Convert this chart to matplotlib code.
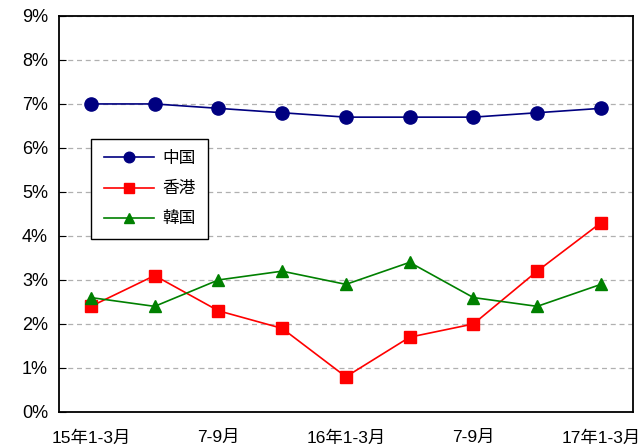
import matplotlib
matplotlib.use("Agg")
import matplotlib.pyplot as plt
from matplotlib.ticker import FuncFormatter

plt.rcParams['font.family'] = ['Liberation Sans', 'Noto Sans CJK JP', 'DejaVu Sans']

quarters = ["15年1-3月", "4-6月", "7-9月", "10-12月", "16年1-3月",
            "4-6月", "7-9月", "10-12月", "17年1-3月"]
china = [7.0, 7.0, 6.9, 6.8, 6.7, 6.7, 6.7, 6.8, 6.9]
hongkong = [2.4, 3.1, 2.3, 1.9, 0.8, 1.7, 2.0, 3.2, 4.3]
korea = [2.6, 2.4, 3.0, 3.2, 2.9, 3.4, 2.6, 2.4, 2.9]
series_names = ["中国", "香港", "韓国"]

fig = plt.figure(figsize=(6.44, 4.45), dpi=100)
ax = fig.add_axes([0.0916, 0.0742, 0.891, 0.89])

x = list(range(len(quarters)))
ax.plot(x, china, color="#000080", marker="o", markersize=9.5, lw=1.2,
        label=series_names[0], clip_on=False, zorder=3)
ax.plot(x, hongkong, color="#FF0000", marker="s", markersize=9, lw=1.2,
        label=series_names[1], clip_on=False, zorder=3)
ax.plot(x, korea, color="#008000", marker="^", markersize=9, lw=1.2,
        label=series_names[2], clip_on=False, zorder=3)

ax.set_xlim(-0.5, len(quarters) - 0.5)
ax.set_ylim(0, 9)
ax.set_yticks(range(0, 10))
ax.yaxis.set_major_formatter(FuncFormatter(lambda v, p: f"{v:.0f}%"))
ax.set_xticks(x[::2])
ax.set_xticklabels(quarters[::2])
ax.tick_params(axis="y", direction="in", length=5, labelsize=13, pad=8)
ax.tick_params(axis="x", length=0, labelsize=12.5, pad=13)
ax.grid(axis="y", color="#b0b0b0", linestyle=(0, (4, 3)), lw=0.9)
ax.set_axisbelow(True)
for s in ax.spines.values():
    s.set_linewidth(1.3)

ax.legend(loc="upper left", bbox_to_anchor=(0.056, 0.69), fontsize=12,
          frameon=True, fancybox=False, edgecolor="black", framealpha=1,
          handlelength=3.0, handletextpad=0.5, labelspacing=0.9,
          borderpad=0.75, borderaxespad=0, markerscale=0.8)

fig.savefig("out.png", dpi=100)
